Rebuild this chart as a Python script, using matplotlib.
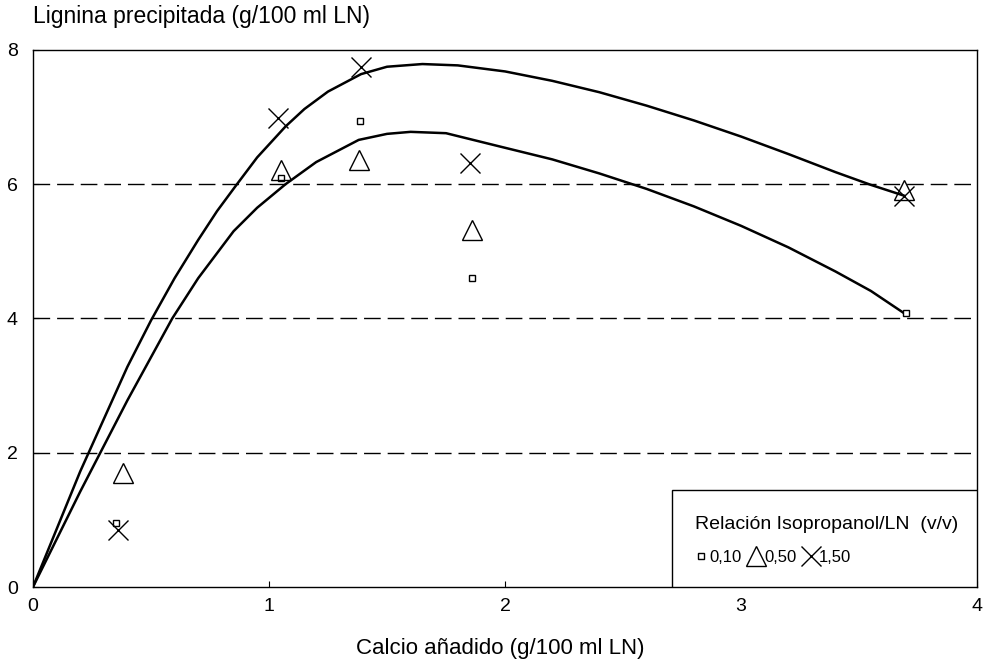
import numpy as np
import matplotlib.pyplot as plt
from matplotlib.patches import Rectangle

plt.rcParams['font.family'] = ['Liberation Sans', 'DejaVu Sans']

# measured points
x_010 = [0.35, 1.05, 1.385, 1.86, 3.70]
y_010 = [0.95, 6.10, 6.94, 4.60, 4.08]
x_050 = [0.38, 1.05, 1.38, 1.86, 3.69]
y_050 = [1.70, 6.21, 6.36, 5.32, 5.92]
x_150 = [0.36, 1.04, 1.39, 1.85, 3.69]
y_150 = [0.85, 6.99, 7.75, 6.32, 5.83]

# fitted curves
curve_hi_x = [0.0, 0.2, 0.4, 0.5, 0.6, 0.7, 0.78, 0.86, 0.95, 1.07, 1.15, 1.25, 1.39,
              1.5, 1.65, 1.8, 2.0, 2.2, 2.4, 2.6, 2.8, 3.0, 3.2, 3.4, 3.55, 3.69]
curve_hi_y = [0.0, 1.72, 3.28, 3.97, 4.6, 5.17, 5.6, 5.98, 6.4, 6.86, 7.12, 7.38, 7.64,
              7.75, 7.79, 7.77, 7.68, 7.54, 7.37, 7.17, 6.95, 6.71, 6.45, 6.18, 5.99, 5.83]
curve_lo_x = [0.0, 0.2, 0.4, 0.59, 0.7, 0.85, 0.95, 1.07, 1.2, 1.38, 1.5, 1.6, 1.75,
              1.98, 2.2, 2.4, 2.6, 2.8, 3.0, 3.2, 3.4, 3.55, 3.69]
curve_lo_y = [0.0, 1.42, 2.78, 4.0, 4.6, 5.3, 5.65, 6.0, 6.33, 6.66, 6.75, 6.78, 6.76,
              6.56, 6.37, 6.16, 5.93, 5.67, 5.38, 5.06, 4.7, 4.41, 4.08]

fig = plt.figure(figsize=(9.84, 6.66), dpi=100)
ax = fig.add_axes([0.0335, 0.1186, 0.9595, 0.8064])

for yy in [2, 4, 6]:
    ax.plot([0, 4], [yy, yy], color='black', lw=1.0, dashes=(12, 5))

ax.plot(curve_hi_x, curve_hi_y, color='black', lw=1.8, solid_joinstyle='round')
ax.plot(curve_lo_x, curve_lo_y, color='black', lw=1.8, solid_joinstyle='round')

ax.plot(x_010, y_010, ls='none', marker='s', ms=4.8, mfc='white', mec='black', mew=1.0, label='0,10')
ax.plot(x_050, y_050, ls='none', marker='^', ms=14, mfc='none', mec='black', mew=1.0, label='0,50')
ax.plot(x_150, y_150, ls='none', marker='x', ms=14.5, mec='black', mew=1.0, label='1,50')

ax.set_xlim(0, 4)
ax.set_ylim(0, 8)
ax.set_xticks([0, 1, 2, 3, 4])
ax.set_yticks([0, 2, 4, 6, 8])
ax.tick_params(axis='x', direction='in', length=4, labelsize=14, pad=8)
ax.tick_params(axis='y', direction='in', length=4, labelsize=14, pad=11)
for s in ax.spines.values():
    s.set_linewidth(1.0)

fig.text(0.0335, 0.975, 'Lignina precipitada (g/100 ml LN)', fontsize=16.5, ha='left', va='center')
ax.set_xlabel('Calcio añadido (g/100 ml LN)', fontsize=16, labelpad=18)
ax.xaxis.set_label_coords(0.4945, -0.095)

# legend box
ax.add_patch(Rectangle((0.677, 0.0), 0.323, 0.181, transform=ax.transAxes,
                       facecolor='white', edgecolor='black', lw=1.0, zorder=5))
leg = ax.legend(title='Relación Isopropanol/LN  (v/v)', ncol=3, loc='center left',
                bbox_to_anchor=(0.692, 0.087), frameon=False, fontsize=12,
                title_fontsize=14, handletextpad=0.1, columnspacing=0.45,
                handlelength=0.8, borderpad=0, markerscale=1.0)
leg._legend_box.align = 'left'
leg._legend_box.sep = 12
leg.set_zorder(6)

fig.savefig('out.png', dpi=100)
